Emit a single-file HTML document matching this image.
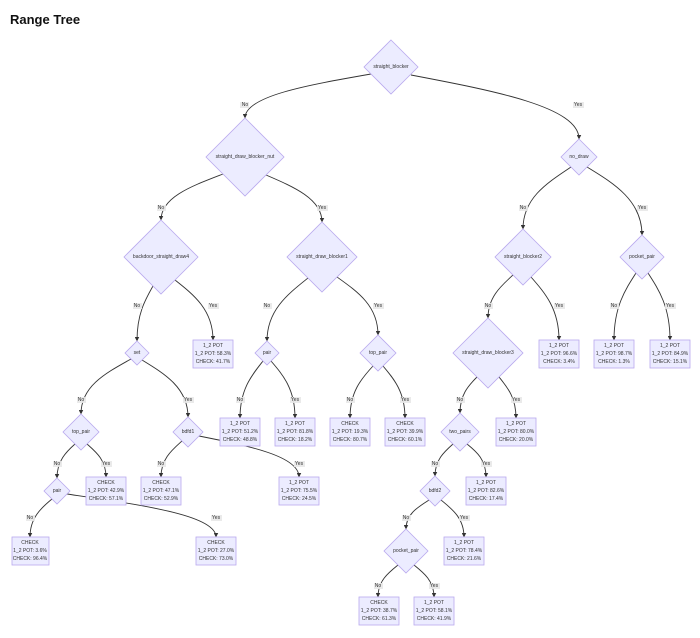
<!DOCTYPE html>
<html><head><meta charset="utf-8"><style>
html,body{margin:0;padding:0;background:#fff;width:700px;height:638px;overflow:hidden}
svg{display:block}
.t{font-family:"Liberation Sans",sans-serif;font-size:5px;fill:#333;text-anchor:middle;dominant-baseline:central}
.d{fill:#ECECFF;stroke:#b9a9ee;stroke-width:0.8}
.e{fill:none;stroke:#333;stroke-width:0.9;marker-end:url(#a)}
.lb{fill:#e8e8e8;opacity:0.9}
</style></head><body>
<svg width="700" height="638" viewBox="0 0 700 638" xmlns="http://www.w3.org/2000/svg">
<defs><marker id="a" viewBox="0 0 10 10" refX="9" refY="5" markerWidth="5" markerHeight="5" orient="auto"><path d="M0,0 L10,5 L0,10z" fill="#333"/></marker></defs>
<text x="10" y="24" font-family="Liberation Sans,sans-serif" font-weight="bold" font-size="13" fill="#111">Range Tree</text>

<!-- edges -->
<path class="e" d="M371,74 C308,85 245,96 245,118"/>
<path class="e" d="M411,75 C495,91 579,107 579,139"/>
<path class="e" d="M223,174 C192,186 161,197 161,220"/>
<path class="e" d="M266,175 C294,187 322,199 322,222"/>
<path class="e" d="M571,167 C547,183 523,198 523,229"/>
<path class="e" d="M587,167 C615,184 642,201 642,235"/>
<path class="e" d="M153,286 C145,300 137,314 137,341"/>
<path class="e" d="M175,280 C194,295 213,310 213,340"/>
<path class="e" d="M308,278 C288,294 267,310 267,341"/>
<path class="e" d="M337,277 C358,292 378,306 378,335"/>
<path class="e" d="M513,275 C501,286 488,297 488,318"/>
<path class="e" d="M531,277 C545,293 559,309 559,340"/>
<path class="e" d="M636,273 C625,290 614,307 614,340"/>
<path class="e" d="M648,273 C659,290 670,307 670,340"/>
<path class="e" d="M131,359 C106,373 81,386 81,414"/>
<path class="e" d="M142,360 C165,374 188,388 188,417"/>
<path class="e" d="M263,361 C252,375 240,389 240,418"/>
<path class="e" d="M271,361 C283,375 295,389 295,418"/>
<path class="e" d="M373,366 C361,379 350,392 350,418"/>
<path class="e" d="M383,366 C394,379 405,392 405,418"/>
<path class="e" d="M477,377 C468,386 460,395 460,413"/>
<path class="e" d="M499,377 C507,387 516,397 516,418"/>
<path class="e" d="M75,444 C66,452 57,461 57,478"/>
<path class="e" d="M87,444 C96,452 106,460 106,477"/>
<path class="e" d="M182,441 C172,450 161,459 161,477"/>
<path class="e" d="M199,436 C249,446 299,456 299,477"/>
<path class="e" d="M453,444 C444,452 435,460 435,476"/>
<path class="e" d="M467,444 C477,452 486,460 486,477"/>
<path class="e" d="M52,499 C41,508 30,518 30,537"/>
<path class="e" d="M67,494 C141,505 216,515 216,537"/>
<path class="e" d="M429,500 C418,507 406,514 406,529"/>
<path class="e" d="M441,500 C452,509 464,518 464,537"/>
<path class="e" d="M398,565 C388,573 378,581 378,597"/>
<path class="e" d="M414,565 C424,573 434,581 434,597"/>

<!-- edge labels -->
<g>
<rect class="lb" x="240" y="102" width="9" height="6"/><text class="t" x="245" y="105">No</text>
<rect class="lb" x="573" y="102" width="11" height="6"/><text class="t" x="578" y="105">Yes</text>
<rect class="lb" x="157" y="205" width="9" height="6"/><text class="t" x="161" y="208">No</text>
<rect class="lb" x="317" y="205" width="11" height="6"/><text class="t" x="322" y="208">Yes</text>
<rect class="lb" x="519" y="205" width="9" height="6"/><text class="t" x="523" y="208">No</text>
<rect class="lb" x="637" y="205" width="11" height="6"/><text class="t" x="642" y="208">Yes</text>
<rect class="lb" x="133" y="303" width="9" height="6"/><text class="t" x="137" y="306">No</text>
<rect class="lb" x="208" y="303" width="11" height="6"/><text class="t" x="213" y="306">Yes</text>
<rect class="lb" x="263" y="303" width="9" height="6"/><text class="t" x="267" y="306">No</text>
<rect class="lb" x="373" y="303" width="11" height="6"/><text class="t" x="378" y="306">Yes</text>
<rect class="lb" x="484" y="303" width="9" height="6"/><text class="t" x="488" y="306">No</text>
<rect class="lb" x="554" y="303" width="11" height="6"/><text class="t" x="559" y="306">Yes</text>
<rect class="lb" x="610" y="303" width="9" height="6"/><text class="t" x="614" y="306">No</text>
<rect class="lb" x="665" y="303" width="11" height="6"/><text class="t" x="670" y="306">Yes</text>
<rect class="lb" x="77" y="397" width="9" height="6"/><text class="t" x="81" y="400">No</text>
<rect class="lb" x="183" y="397" width="11" height="6"/><text class="t" x="188" y="400">Yes</text>
<rect class="lb" x="236" y="397" width="9" height="6"/><text class="t" x="240" y="400">No</text>
<rect class="lb" x="290" y="397" width="11" height="6"/><text class="t" x="295" y="400">Yes</text>
<rect class="lb" x="346" y="397" width="9" height="6"/><text class="t" x="350" y="400">No</text>
<rect class="lb" x="400" y="397" width="11" height="6"/><text class="t" x="405" y="400">Yes</text>
<rect class="lb" x="456" y="397" width="9" height="6"/><text class="t" x="460" y="400">No</text>
<rect class="lb" x="511" y="397" width="11" height="6"/><text class="t" x="516" y="400">Yes</text>
<rect class="lb" x="53" y="461" width="9" height="6"/><text class="t" x="57" y="464">No</text>
<rect class="lb" x="101" y="461" width="11" height="6"/><text class="t" x="106" y="464">Yes</text>
<rect class="lb" x="157" y="461" width="9" height="6"/><text class="t" x="161" y="464">No</text>
<rect class="lb" x="294" y="461" width="11" height="6"/><text class="t" x="299" y="464">Yes</text>
<rect class="lb" x="431" y="461" width="9" height="6"/><text class="t" x="435" y="464">No</text>
<rect class="lb" x="481" y="461" width="11" height="6"/><text class="t" x="486" y="464">Yes</text>
<rect class="lb" x="26" y="515" width="9" height="6"/><text class="t" x="30" y="518">No</text>
<rect class="lb" x="211" y="515" width="11" height="6"/><text class="t" x="216" y="518">Yes</text>
<rect class="lb" x="402" y="515" width="9" height="6"/><text class="t" x="406" y="518">No</text>
<rect class="lb" x="459" y="515" width="11" height="6"/><text class="t" x="464" y="518">Yes</text>
<rect class="lb" x="374" y="583" width="9" height="6"/><text class="t" x="378" y="586">No</text>
<rect class="lb" x="429" y="583" width="11" height="6"/><text class="t" x="434" y="586">Yes</text>
</g>

<!-- diamonds -->
<polygon class="d" points="391,40 418,67 391,94 364,67"/><text class="t" x="391" y="67">straight_blocker</text>
<polygon class="d" points="245,118 284,157 245,196 206,157"/><text class="t" x="245" y="157">straight_draw_blocker_nut</text>
<polygon class="d" points="579,139 597,157 579,175 561,157"/><text class="t" x="579" y="157">no_draw</text>
<polygon class="d" points="161,220 198,257 161,294 124,257"/><text class="t" x="161" y="257">backdoor_straight_draw4</text>
<polygon class="d" points="322,222 357,257 322,292 287,257"/><text class="t" x="322" y="257">straight_draw_blocker1</text>
<polygon class="d" points="523,229 551,257 523,285 495,257"/><text class="t" x="523" y="257">straight_blocker2</text>
<polygon class="d" points="642,235 664,257 642,279 620,257"/><text class="t" x="642" y="257">pocket_pair</text>
<polygon class="d" points="137,341 149,353 137,365 125,353"/><text class="t" x="137" y="353">set</text>
<polygon class="d" points="267,341 279,353 267,365 255,353"/><text class="t" x="267" y="353">pair</text>
<polygon class="d" points="378,335 396,353 378,371 360,353"/><text class="t" x="378" y="353">top_pair</text>
<polygon class="d" points="488,318 523,353 488,388 453,353"/><text class="t" x="488" y="353">straight_draw_blocker3</text>
<polygon class="d" points="81,414 99,432 81,450 63,432"/><text class="t" x="81" y="432">top_pair</text>
<polygon class="d" points="188,417 203,432 188,447 173,432"/><text class="t" x="188" y="432">bdfd1</text>
<polygon class="d" points="460,413 479,432 460,451 441,432"/><text class="t" x="460" y="432">two_pairs</text>
<polygon class="d" points="57,478 70,491 57,504 44,491"/><text class="t" x="57" y="491">pair</text>
<polygon class="d" points="435,476 450,491 435,506 420,491"/><text class="t" x="435" y="491">bdfd2</text>
<polygon class="d" points="406,529 428,551 406,573 384,551"/><text class="t" x="406" y="551">pocket_pair</text>

<!-- boxes -->
<g>
<rect class="d" x="193" y="340" width="40" height="28"/><text class="t" x="213" y="346">1_2 POT</text><text class="t" x="213" y="354">1_2 POT: 58.3%</text><text class="t" x="213" y="362">CHECK: 41.7%</text>
<rect class="d" x="220" y="418" width="40" height="28"/><text class="t" x="240" y="424">1_2 POT</text><text class="t" x="240" y="432">1_2 POT: 51.2%</text><text class="t" x="240" y="440">CHECK: 48.8%</text>
<rect class="d" x="275" y="418" width="40" height="28"/><text class="t" x="295" y="424">1_2 POT</text><text class="t" x="295" y="432">1_2 POT: 81.8%</text><text class="t" x="295" y="440">CHECK: 18.2%</text>
<rect class="d" x="330" y="418" width="40" height="28"/><text class="t" x="350" y="424">CHECK</text><text class="t" x="350" y="432">1_2 POT: 19.3%</text><text class="t" x="350" y="440">CHECK: 80.7%</text>
<rect class="d" x="385" y="418" width="40" height="28"/><text class="t" x="405" y="424">CHECK</text><text class="t" x="405" y="432">1_2 POT: 39.9%</text><text class="t" x="405" y="440">CHECK: 60.1%</text>
<rect class="d" x="86" y="477" width="40" height="28"/><text class="t" x="106" y="483">CHECK</text><text class="t" x="106" y="491">1_2 POT: 42.9%</text><text class="t" x="106" y="499">CHECK: 57.1%</text>
<rect class="d" x="141" y="477" width="40" height="28"/><text class="t" x="161" y="483">CHECK</text><text class="t" x="161" y="491">1_2 POT: 47.1%</text><text class="t" x="161" y="499">CHECK: 52.9%</text>
<rect class="d" x="279" y="477" width="40" height="28"/><text class="t" x="299" y="483">1_2 POT</text><text class="t" x="299" y="491">1_2 POT: 75.5%</text><text class="t" x="299" y="499">CHECK: 24.5%</text>
<rect class="d" x="12" y="537" width="37" height="28"/><text class="t" x="30" y="543">CHECK</text><text class="t" x="30" y="551">1_2 POT: 3.6%</text><text class="t" x="30" y="559">CHECK: 96.4%</text>
<rect class="d" x="196" y="537" width="40" height="28"/><text class="t" x="216" y="543">CHECK</text><text class="t" x="216" y="551">1_2 POT: 27.0%</text><text class="t" x="216" y="559">CHECK: 73.0%</text>
<rect class="d" x="539" y="340" width="40" height="28"/><text class="t" x="559" y="346">1_2 POT</text><text class="t" x="559" y="354">1_2 POT: 96.6%</text><text class="t" x="559" y="362">CHECK: 3.4%</text>
<rect class="d" x="594" y="340" width="40" height="28"/><text class="t" x="614" y="346">1_2 POT</text><text class="t" x="614" y="354">1_2 POT: 98.7%</text><text class="t" x="614" y="362">CHECK: 1.3%</text>
<rect class="d" x="650" y="340" width="40" height="28"/><text class="t" x="670" y="346">1_2 POT</text><text class="t" x="670" y="354">1_2 POT: 84.9%</text><text class="t" x="670" y="362">CHECK: 15.1%</text>
<rect class="d" x="496" y="418" width="40" height="28"/><text class="t" x="516" y="424">1_2 POT</text><text class="t" x="516" y="432">1_2 POT: 80.0%</text><text class="t" x="516" y="440">CHECK: 20.0%</text>
<rect class="d" x="466" y="477" width="40" height="28"/><text class="t" x="486" y="483">1_2 POT</text><text class="t" x="486" y="491">1_2 POT: 82.6%</text><text class="t" x="486" y="499">CHECK: 17.4%</text>
<rect class="d" x="444" y="537" width="40" height="28"/><text class="t" x="464" y="543">1_2 POT</text><text class="t" x="464" y="551">1_2 POT: 78.4%</text><text class="t" x="464" y="559">CHECK: 21.6%</text>
<rect class="d" x="359" y="597" width="40" height="28"/><text class="t" x="379" y="603">CHECK</text><text class="t" x="379" y="611">1_2 POT: 38.7%</text><text class="t" x="379" y="619">CHECK: 61.3%</text>
<rect class="d" x="414" y="597" width="40" height="28"/><text class="t" x="434" y="603">1_2 POT</text><text class="t" x="434" y="611">1_2 POT: 58.1%</text><text class="t" x="434" y="619">CHECK: 41.9%</text>
</g>
</svg>
</body></html>
